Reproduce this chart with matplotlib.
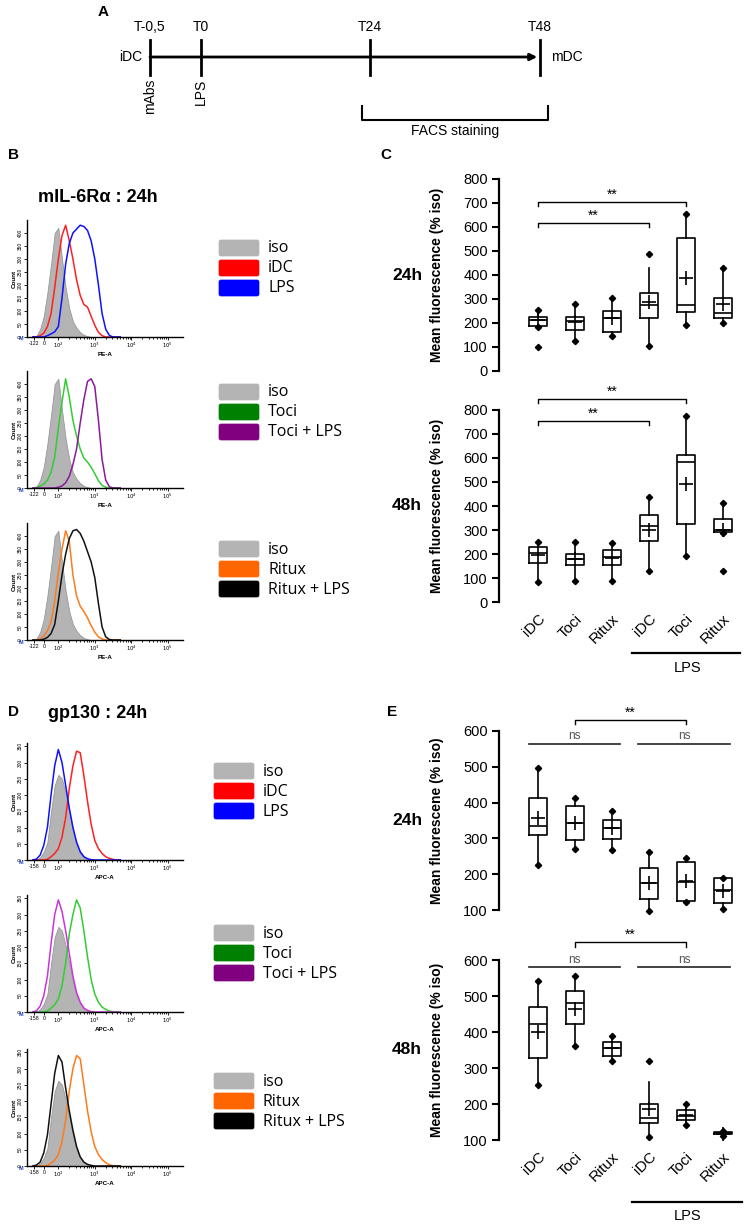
import numpy as np
import matplotlib
matplotlib.use("Agg")
import matplotlib.pyplot as plt
from matplotlib.patches import FancyBboxPatch

plt.rcParams['font.family'] = ['Liberation Sans', 'DejaVu Sans']

W, H = 745, 1231

# ---- flow cytometry histograms (x in log decades, y = count) ----
hist_x = [1.3, 1.4, 1.5, 1.6, 1.7, 1.8, 1.9, 2.0, 2.1, 2.2, 2.3, 2.4, 2.5,
          2.6, 2.7, 2.8, 2.9, 3.0, 3.1, 3.2, 3.3, 3.4, 3.5, 3.6, 3.7]

b_iso = [0, 5, 30, 80, 170, 280, 400, 420, 300, 190, 110, 60, 35, 18, 8, 3, 0, 0, 0, 0, 0, 0, 0, 0, 0]
b_idc = [0, 0, 5, 15, 40, 90, 190, 300, 390, 430, 370, 300, 220, 160, 125, 115, 80, 45, 18, 5, 0, 0, 0, 0, 0]
b_lps = [0, 0, 0, 0, 5, 12, 20, 40, 150, 280, 360, 400, 415, 430, 425, 410, 370, 300, 200, 90, 30, 6, 0, 0, 0]
b_toci = [0, 2, 8, 15, 30, 60, 120, 230, 330, 420, 350, 260, 200, 150, 115, 100, 80, 55, 28, 10, 3, 0, 0, 0, 0]
b_toci_lps = [0, 0, 0, 0, 0, 0, 0, 3, 8, 20, 45, 90, 150, 250, 340, 410, 420, 390, 260, 110, 30, 5, 0, 0, 0]
b_ritux = [0, 0, 5, 15, 35, 70, 150, 260, 350, 420, 380, 250, 170, 130, 110, 85, 55, 30, 12, 4, 0, 0, 0, 0, 0]
b_ritux_lps = [0, 0, 0, 3, 10, 25, 60, 150, 250, 330, 390, 420, 425, 410, 380, 340, 300, 240, 140, 50, 12, 2, 0, 0, 0]

d_iso = [0, 0, 8, 25, 55, 150, 230, 262, 250, 205, 150, 95, 50, 26, 12, 4, 0, 0, 0, 0, 0, 0, 0, 0, 0]
d_idc = [0, 0, 0, 0, 2, 10, 20, 35, 70, 130, 220, 290, 335, 330, 260, 180, 110, 60, 35, 20, 10, 5, 2, 0, 0]
d_lps = [0, 3, 15, 45, 100, 200, 290, 340, 300, 230, 160, 100, 55, 25, 10, 4, 1, 0, 0, 0, 0, 0, 0, 0, 0]
d_toci = [0, 0, 0, 0, 3, 12, 22, 40, 80, 150, 240, 300, 345, 320, 250, 170, 100, 55, 30, 15, 8, 3, 1, 0, 0]
d_toci_lps = [0, 4, 18, 50, 110, 210, 300, 345, 310, 250, 180, 110, 60, 30, 12, 5, 1, 0, 0, 0, 0, 0, 0, 0, 0]
d_ritux = [0, 0, 0, 0, 2, 8, 18, 35, 75, 140, 230, 300, 340, 330, 250, 170, 105, 60, 35, 20, 10, 4, 1, 0, 0]
d_ritux_lps = [0, 3, 12, 40, 95, 190, 285, 340, 320, 240, 170, 110, 60, 28, 12, 5, 2, 0, 0, 0, 0, 0, 0, 0, 0]

# ---- box plots: mean fluorescence (% iso) ----
groups = ['iDC', 'Toci', 'Ritux', 'iDC', 'Toci', 'Ritux']

c24_low = [185, 125, 146, 104, 192, 202]
c24_q1 = [189, 171, 164, 220, 245, 220]
c24_med = [213, 210, 220, 273, 275, 243]
c24_q3 = [227, 223, 250, 324, 553, 306]
c24_high = [255, 280, 303, 428, 655, 431]
c24_mean = [213, 206, 220, 287, 389, 278]
c24_dots = [[255, 185, 101], [280, 125], [303, 146], [487, 104], [655, 192], [431, 202]]

c48_low = [83, 88, 86, 128, 192, 288]
c48_q1 = [163, 153, 153, 253, 324, 290]
c48_med = [204, 178, 188, 316, 584, 300]
c48_q3 = [229, 202, 218, 362, 612, 344]
c48_high = [250, 250, 246, 438, 775, 413]
c48_mean = [195, 178, 184, 299, 490, 299]
c48_dots = [[250, 83], [250, 88], [246, 86], [438, 128], [775, 192], [413, 288, 128]]

e24_low = [226, 270, 268, 97, 121, 103]
e24_q1 = [310, 296, 297, 131, 126, 119]
e24_med = [335, 342, 328, 175, 179, 156]
e24_q3 = [414, 390, 351, 216, 233, 188]
e24_high = [498, 414, 377, 263, 244, 188]
e24_mean = [356, 342, 328, 175, 182, 153]
e24_dots = [[498, 226], [414, 270], [377, 268], [263, 97], [244, 121], [188, 103]]

e48_low = [253, 361, 319, 109, 143, 111]
e48_q1 = [327, 421, 333, 148, 156, 117]
e48_med = [422, 481, 356, 162, 168, 119]
e48_q3 = [469, 515, 372, 200, 183, 122]
e48_high = [542, 556, 389, 260, 199, 125]
e48_mean = [401, 464, 355, 186, 170, 118]
e48_dots = [[542, 253], [556, 361], [389, 319], [320, 109], [199, 143], [125, 111]]


def rect(l, t, r, b):
    return [l / W, 1 - b / H, (r - l) / W, (b - t) / H]


fig = plt.figure(figsize=(W / 100, H / 100), dpi=100)
ax0 = fig.add_axes([0, 0, 1, 1])
ax0.set_xlim(0, W)
ax0.set_ylim(H, 0)
ax0.axis('off')

# ---- panel A: timeline ----
ax0.text(103, 12, 'A', fontsize=11, fontweight='bold', ha='center', va='center')
ax0.annotate('', xy=(540, 57), xytext=(150, 57),
             arrowprops=dict(arrowstyle='-|>', lw=2, color='k', mutation_scale=10,
                             shrinkA=0, shrinkB=2))
for xt, lab in zip([150, 201, 370, 540], ['T-0,5', 'T0', 'T24', 'T48']):
    ax0.plot([xt, xt], [40, 75], color='k', lw=2)
    ax0.text(xt, 27, lab, ha='center', va='center', fontsize=10)
ax0.text(142, 57, 'iDC', ha='right', va='center', fontsize=10)
ax0.text(551, 57, 'mDC', ha='left', va='center', fontsize=10)
ax0.text(150, 79, 'mAbs', rotation=90, ha='center', va='top', fontsize=10)
ax0.text(201, 79, 'LPS', rotation=90, ha='center', va='top', fontsize=10)
ax0.plot([362, 362, 548, 548], [106, 120, 120, 106], color='k', lw=1.5)
ax0.text(455, 131, 'FACS staining', ha='center', va='center', fontsize=10)


# ---- histograms ----
def hist_panel(top, iso, c1, c2, col1, col2, ymax, ystep, xlab, neg):
    ax = fig.add_axes(rect(27, top, 183, top + 117), facecolor='none')
    ax.fill_between(hist_x, iso, color='#b4b4b4', edgecolor='#999999', lw=0.6)
    ax.plot(hist_x, c1, color=col1, lw=1.1)
    ax.plot(hist_x, c2, color=col2, lw=1.1)
    ax.set_xlim(1.14, 5.42)
    ax.set_ylim(0, ymax)
    ax.set_yticks(np.arange(0, ymax, ystep))
    ax.set_yticklabels([str(v) for v in np.arange(0, ymax, ystep)], rotation=90,
                       fontsize=3.5, va='center')
    major = [1.33, 1.6, 2, 3, 4, 5]
    ax.set_xticks(major)
    ax.set_xticklabels([neg, '0', '$10^2$', '$10^3$', '$10^4$', '$10^5$'], fontsize=3.8)
    minor = [d + np.log10(k) for d in [2, 3, 4] for k in range(2, 10)]
    ax.set_xticks(minor, minor=True)
    ax.tick_params(which='both', direction='out', length=2, width=0.6, pad=1)
    ax.tick_params(which='minor', length=1.2)
    for s in ['top', 'right']:
        ax.spines[s].set_visible(False)
    for s in ['left', 'bottom']:
        ax.spines[s].set_linewidth(1)
    ax.set_ylabel('Count', fontsize=4.5, fontweight='bold', labelpad=1)
    ax.set_xlabel(xlab, fontsize=4.5, fontweight='bold', labelpad=1)
    ax0.text(21, top + 119, 'M', color='#2040d0', fontsize=4, fontweight='bold',
             ha='center', va='center')
    return ax


def legend_block(x, y, labels, colors):
    for i, (lab, col) in enumerate(zip(labels, colors)):
        ax0.add_patch(FancyBboxPatch((x, y + 20 * i), 40, 16,
                                     boxstyle='round,pad=0,rounding_size=2',
                                     fc=col, ec=col, lw=0.5))
        ax0.text(x + 49, y + 20 * i + 8.5, lab, va='center', ha='left',
                 fontsize=11.5, family=['Open Sans', 'DejaVu Sans'])


ax0.text(8, 155, 'B', fontsize=11, fontweight='bold', ha='left', va='center')
ax0.text(98, 197, 'mIL-6Rα : 24h', fontsize=13, fontweight='bold', ha='center', va='center')
hist_panel(220, b_iso, b_idc, b_lps, '#ff2020', '#1010ff', 450, 50, 'PE-A', '-122')
hist_panel(371, b_iso, b_toci, b_toci_lps, '#33cc33', '#8a1a9a', 450, 50, 'PE-A', '-122')
hist_panel(523, b_iso, b_ritux, b_ritux_lps, '#ff7a1a', '#111111', 450, 50, 'PE-A', '-122')
legend_block(219, 240, ['iso', 'iDC', 'LPS'], ['#b4b4b4', '#ff0000', '#0000ff'])
legend_block(219, 384, ['iso', 'Toci', 'Toci + LPS'], ['#b4b4b4', '#008000', '#800080'])
legend_block(219, 541, ['iso', 'Ritux', 'Ritux + LPS'], ['#b4b4b4', '#ff6600', '#000000'])

ax0.text(8, 712, 'D', fontsize=11, fontweight='bold', ha='left', va='center')
ax0.text(98, 714, 'gp130 : 24h', fontsize=13, fontweight='bold', ha='center', va='center')
hist_panel(743, d_iso, d_idc, d_lps, '#ff2020', '#1010ff', 360, 50, 'APC-A', '-158')
hist_panel(895, d_iso, d_toci, d_toci_lps, '#33cc33', '#cc33dd', 360, 50, 'APC-A', '-158')
hist_panel(1049, d_iso, d_ritux, d_ritux_lps, '#ff7a1a', '#111111', 360, 50, 'APC-A', '-158')
legend_block(214, 763, ['iso', 'iDC', 'LPS'], ['#b4b4b4', '#ff0000', '#0000ff'])
legend_block(214, 925, ['iso', 'Toci', 'Toci + LPS'], ['#b4b4b4', '#008000', '#800080'])
legend_block(214, 1073, ['iso', 'Ritux', 'Ritux + LPS'], ['#b4b4b4', '#ff6600', '#000000'])

# ---- box plot panels ----
pos = np.arange(1, 7)


def box_panel(top, bottom, y0, y1, step, low, q1, med, q3, high, mean, dots,
              ylabel, tag, xlabels=False):
    ax = fig.add_axes(rect(499, top, 745, bottom), facecolor='none')
    stats = [dict(whislo=a, q1=b, med=c, q3=d, whishi=e, mean=f, fliers=[])
             for a, b, c, d, e, f in zip(low, q1, med, q3, high, mean)]
    lp = dict(color='k', lw=1.2)
    ax.bxp(stats, positions=pos, widths=0.5, showmeans=True, showcaps=False,
           showfliers=False, boxprops=lp, medianprops=lp, whiskerprops=lp,
           meanprops=dict(marker='+', markersize=9.5, markeredgecolor='k', mew=1.2))
    for p, d in zip(pos, dots):
        ax.plot([p] * len(d), d, 'D', color='k', ms=3.2, clip_on=False)
    ax.set_xlim(-0.05, 6.6)
    ax.set_ylim(y0, y1)
    ax.set_yticks(np.arange(y0, y1 + 1, step))
    for s in ['top', 'right', 'bottom']:
        ax.spines[s].set_visible(False)
    ax.spines['left'].set_linewidth(1.6)
    ax.tick_params(axis='y', direction='out', length=5, width=1.5, labelsize=10.5, pad=3)
    if xlabels:
        ax.set_xticks(pos)
        ax.set_xticklabels(groups, rotation=45, ha='right', rotation_mode='anchor',
                           fontsize=11)
        ax.tick_params(axis='x', length=0, pad=7)
    else:
        ax.set_xticks([])
    cy = (top + bottom) / 2
    ax0.text(437, cy, ylabel, rotation=90, ha='center', va='center',
             fontsize=10, fontweight='bold')
    ax0.text(407, cy, tag, ha='center', va='center', fontsize=12.5, fontweight='bold')
    return ax


def bracket(ax, x1, x2, y, d, label):
    ax.plot([x1, x1, x2, x2], [y - d, y, y, y - d], color='k', lw=1, clip_on=False)
    ax.text((x1 + x2) / 2, y + d * 0.1, label, ha='center', va='bottom',
            fontsize=10, clip_on=False)


def ns_line(ax, x1, x2, y, off):
    ax.plot([x1, x2], [y, y], color='#222222', lw=1.2, clip_on=False)
    ax.text((x1 + x2) / 2, y + off, 'ns', ha='center', va='bottom',
            fontsize=8.5, color='#555555', clip_on=False)


ax0.text(380, 155, 'C', fontsize=11, fontweight='bold', ha='left', va='center')
axc1 = box_panel(179, 371, 0, 800, 100, c24_low, c24_q1, c24_med, c24_q3, c24_high,
                 c24_mean, c24_dots, 'Mean fluorescence (% iso)', '24h')
bracket(axc1, 1, 5, 704, 18, '**')
bracket(axc1, 1, 4, 617, 18, '**')
axc2 = box_panel(410, 602, 0, 800, 100, c48_low, c48_q1, c48_med, c48_q3, c48_high,
                 c48_mean, c48_dots, 'Mean fluorescence (% iso)', '48h', xlabels=True)
bracket(axc2, 1, 5, 846, 18, '**')
bracket(axc2, 1, 4, 755, 18, '**')
ax0.plot([632, 740], [653, 653], color='k', lw=1.6)
ax0.text(688, 668, 'LPS', ha='center', va='center', fontsize=10.5)

ax0.text(387, 712, 'E', fontsize=11, fontweight='bold', ha='left', va='center')
axe1 = box_panel(731, 910, 100, 600, 100, e24_low, e24_q1, e24_med, e24_q3, e24_high,
                 e24_mean, e24_dots, 'Mean fluorescene (% iso)', '24h')
bracket(axe1, 2, 5, 631, 12, '**')
ns_line(axe1, 0.76, 3.22, 564, 4)
ns_line(axe1, 3.7, 6.2, 564, 4)
axe2 = box_panel(960, 1140, 100, 600, 100, e48_low, e48_q1, e48_med, e48_q3, e48_high,
                 e48_mean, e48_dots, 'Mean fluorescence (% iso)', '48h', xlabels=True)
bracket(axe2, 2, 5, 649, 12, '**')
ns_line(axe2, 0.76, 3.22, 580, 4)
ns_line(axe2, 3.7, 6.2, 580, 4)
ax0.plot([632, 742], [1202, 1202], color='k', lw=1.6)
ax0.text(688, 1216, 'LPS', ha='center', va='center', fontsize=10.5)

fig.savefig('out.png', dpi=100)
